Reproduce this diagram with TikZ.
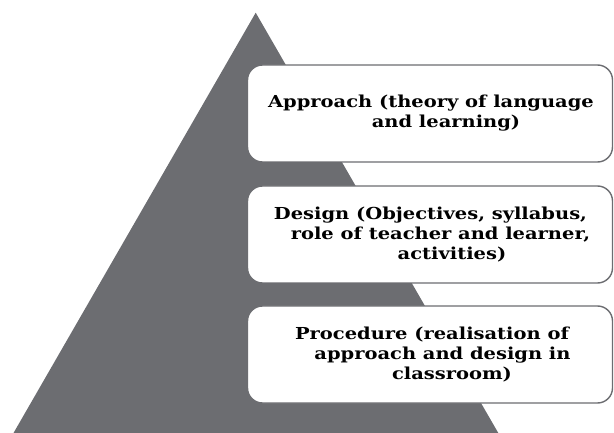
\documentclass[tikz,border=0pt]{standalone}
\usepackage{fontspec}
\setmainfont[FakeStretch=1.18]{DejaVu Serif}
\definecolor{pyrgray}{RGB}{108,109,113}
\newcommand{\shiftline}[2]{\hspace*{#1}#2\hspace*{-#1}}
\begin{document}
\begin{tikzpicture}[x=1pt,y=-1pt,
  levelbox/.style={draw=pyrgray, line width=1.4pt, fill=white, rounded corners=15pt,
    minimum width=365pt, minimum height=97pt, inner sep=0pt,
    font=\bfseries\fontsize{16.5pt}{20pt}\selectfont, align=center, text=black}]
\useasboundingbox (0,0) rectangle (614,433);
\fill[pyrgray] (255.7,12.7) -- (13.5,433) -- (498.3,433) -- cycle;
\node[levelbox] (approach) at (430,113.5) {\shiftline{1pt}{Approach (theory of language}\\\shiftline{16pt}{and learning)}};
\node[levelbox] (design) at (430,234.5) {\shiftline{0.5pt}{Design (Objectives, syllabus,}\\\shiftline{21pt}{role of teacher and learner,}\\\shiftline{22pt}{activities)}};
\node[levelbox] (procedure) at (430,354.5) {\shiftline{2pt}{Procedure (realisation of}\\\shiftline{25pt}{approach and design in}\\\shiftline{22pt}{classroom)}};
\end{tikzpicture}
\end{document}
